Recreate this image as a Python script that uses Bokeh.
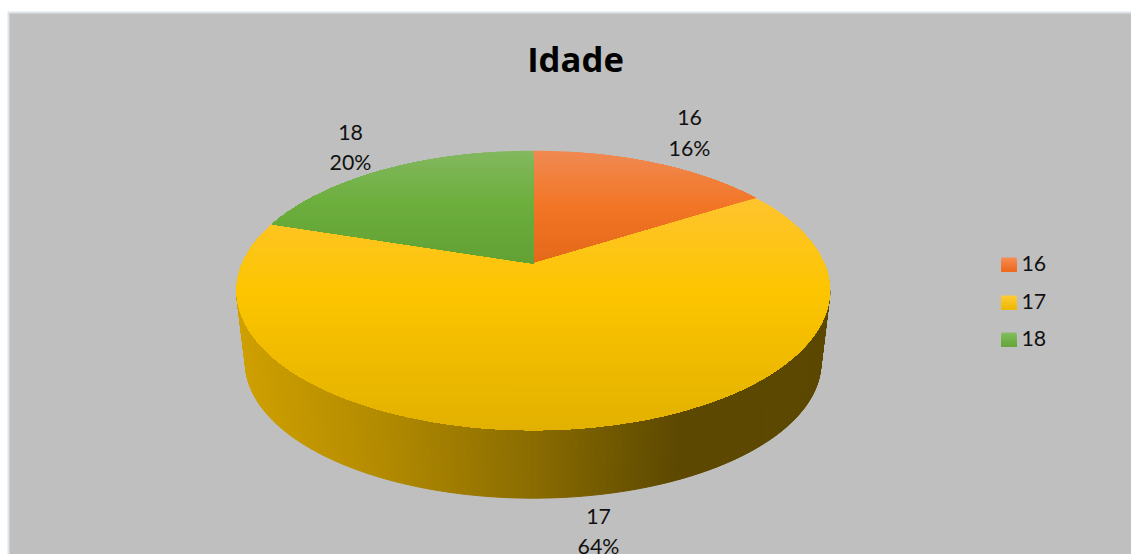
from bokeh.plotting import figure
from bokeh.models import Range1d
from bokeh.core.properties import value
from bokeh.embed import file_html
from bokeh.resources import INLINE
import numpy as np

# Data
title_text = "Idade"
ages = ["16", "17", "18"]
counts = [16, 64, 20]

# Top-face gradient stops for each slice: (fraction of slice height, colour)
slice_stops = {
    "16": [(0.0, "#F08A52"), (0.5, "#F27526"), (1.0, "#E4691A")],
    "17": [(0.0, "#FEC42F"), (0.40, "#FDC500"), (1.0, "#E2B100")],
    "18": [(0.0, "#83B85F"), (0.45, "#6DAF3E"), (1.0, "#62A135")],
}
legend_stops = {
    "16": [(0.0, "#F68B52"), (1.0, "#EC6A1C")],
    "17": [(0.0, "#FFCB35"), (1.0, "#EDB800")],
    "18": [(0.0, "#84BC60"), (1.0, "#66A639")],
}
# Horizontal shading of the rim, as a fraction of the disc width
rim_stops = [(0.0, "#D0A000"), (0.25, "#B28A00"), (0.5, "#8A6C00"), (0.75, "#5C4800"), (1.0, "#5C4800")]

BG = "#BFBFBF"
EDGE = "#DDE3E8"

# Perspective disc layout
CX, CY, R, S, K = 532.7, 263.0, 291.0, 134.5, 0.193
RIM_SCALE, RIM_CY = 0.97, 336.0


def hex_rgb(c):
    return np.array([int(c[i:i + 2], 16) for i in (1, 3, 5)], float)


def mix(stops, t):
    pos = [s[0] for s in stops]
    rgb = np.array([hex_rgb(s[1]) for s in stops])
    out = [np.interp(t, pos, rgb[:, i]) for i in range(3)]
    return "#%02X%02X%02X" % tuple(int(round(v)) for v in out)


def project(theta, scale=1.0, cy=CY):
    # theta runs clockwise from the back of the disc
    u, v = np.sin(theta), np.cos(theta)
    w = 1 + K * v
    return CX + scale * R * u / w, cy - scale * S * v / w


def clip_below(xs, ys, limit):
    # Keep the part of a polygon with y >= limit (screen coordinates)
    ox, oy = [], []
    n = len(xs)
    for i in range(n):
        x0, y0, x1, y1 = xs[i], ys[i], xs[(i + 1) % n], ys[(i + 1) % n]
        if y0 >= limit:
            ox.append(x0)
            oy.append(y0)
        if (y0 >= limit) != (y1 >= limit):
            t = (limit - y0) / (y1 - y0)
            ox.append(x0 + t * (x1 - x0))
            oy.append(limit)
    return ox, oy


p = figure(width=1131, height=554, x_range=Range1d(0, 1131), y_range=Range1d(554, 0),
           output_backend="svg", toolbar_location=None, min_border=0,
           background_fill_color="white", border_fill_color="white", outline_line_color=None)
p.axis.visible = False
p.grid.visible = False

# Chart area
p.quad(left=[7], right=[1140], top=[11], bottom=[560], fill_color=EDGE, line_color=None)
p.quad(left=[9], right=[1140], top=[13], bottom=[560], fill_color=BG, line_color=None)

# Rim of the disc, shaded left to right
theta_front = np.linspace(np.pi / 2 + np.arcsin(K), 3 * np.pi / 2 - np.arcsin(K), 361)
tx, ty = project(theta_front)
bx, by = project(theta_front, RIM_SCALE, RIM_CY)
order = np.argsort(tx)
rim_xs, rim_ys, rim_cs = [], [], []
for a, b in zip(order[:-1], order[1:]):
    rim_xs.append([tx[a], tx[b], bx[b], bx[a]])
    rim_ys.append([ty[a], ty[b], by[b], by[a]])
    rim_cs.append(mix(rim_stops, (0.5 * (tx[a] + tx[b]) - tx.min()) / (tx.max() - tx.min())))
p.patches(rim_xs, rim_ys, fill_color=rim_cs, line_color=rim_cs, line_width=1)

# Top face: each slice is painted in layers that start one pixel lower each time
total = sum(counts)
start = 0.0
for age, count in zip(ages, counts):
    end = start + count / total
    th = np.linspace(start, end, max(12, int(count * 8))) * 2 * np.pi
    ex, ey = project(th)
    xs = [CX] + list(ex)
    ys = [CY] + list(ey)
    ymin, ymax = min(ys), max(ys)
    lx, ly, lc = [], [], []
    for limit in np.arange(ymin, ymax, 1.0):
        cx, cy = clip_below(xs, ys, limit)
        if len(cx) >= 3:
            lx.append(cx)
            ly.append(cy)
            lc.append(mix(slice_stops[age], (limit - ymin) / (ymax - ymin)))
    p.patches(lx, ly, fill_color=lc, line_color=None)
    start = end

LABEL_FONT = value("Lato")
LABEL_SIZE = "16pt"

# Title
p.text([575], [58], text=[title_text], text_font=value("Open Sans"), text_font_style="bold",
       text_font_size="26pt", text_align="center", text_baseline="middle", text_color="#000000")

# Data labels
label_pos = {"16": (689, 117, 147), "17": (598, 516, 545), "18": (350, 132, 161)}
for age, count in zip(ages, counts):
    x, y0, y1 = label_pos[age]
    pct = f"{round(100 * count / total)}%"
    p.text([x, x], [y0, y1], text=[age, pct], text_font=LABEL_FONT, text_font_size=LABEL_SIZE,
           text_align="center", text_baseline="middle", text_color="#111111")

# Legend
legend_y = {"16": 264, "17": 302, "18": 339}
for age in ages:
    yc = legend_y[age]
    for i in range(14):
        p.quad(left=[1001], right=[1016], top=[yc - 7 + i], bottom=[yc + 7],
               fill_color=mix(legend_stops[age], i / 13), line_color=None)
    p.text([1021], [yc - 1], text=[age], text_font=LABEL_FONT, text_font_size=LABEL_SIZE,
           text_align="left", text_baseline="middle", text_color="#111111")

open("out.html", "w").write(file_html(p, INLINE))
